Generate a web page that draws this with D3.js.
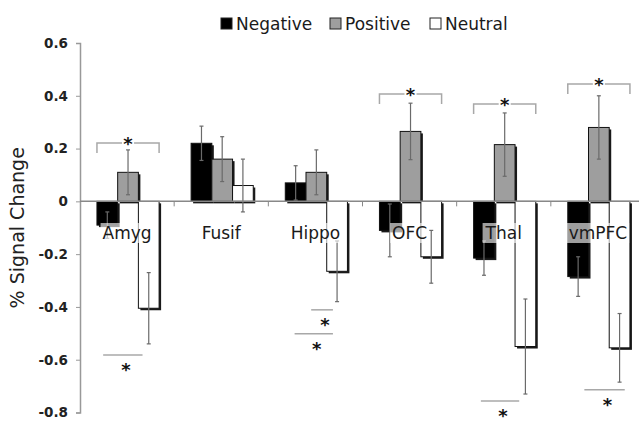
<!DOCTYPE html>
<html>
<head>
<meta charset="utf-8">
<script src="https://cdn.jsdelivr.net/npm/d3@7"></script>
<style>
  body { margin: 0; background: #fff; }
  svg { display: block; font-family: "DejaVu Sans", Verdana, sans-serif; }
</style>
</head>
<body>
<div id="chart"></div>
<script>
// data
const categories = ["Amyg", "Fusif", "Hippo", "OFC", "Thal", "vmPFC"];
const seriesNames = ["Negative", "Positive", "Neutral"];
const negative = [-0.09, 0.22, 0.07, -0.11, -0.215, -0.285];
const positive = [0.11, 0.16, 0.11, 0.265, 0.215, 0.28];
const neutral = [-0.405, 0.06, -0.265, -0.21, -0.55, -0.555];
const negativeErr = [0.05, 0.065, 0.065, 0.10, 0.065, 0.075];
const positiveErr = [0.085, 0.085, 0.085, 0.107, 0.12, 0.12];
const neutralErr = [0.135, 0.10, 0.115, 0.10, 0.18, 0.13];
const yTicks = [0.6, 0.4, 0.2, 0, -0.2, -0.4, -0.6, -0.8];

// significance marks: brackets above, lines below (span given in bar slots)
const topBracketCats = ["Amyg", "OFC", "Thal", "vmPFC"];
const topBracketLevels = [0.221, 0.407, 0.369, 0.445];
const bottomLineCats = ["Amyg", "Hippo", "Hippo", "Thal", "vmPFC"];
const bottomLineLevels = [-0.582, -0.411, -0.502, -0.756, -0.714];
const bottomLineFrom = [0.3, 1.25, 0.45, 0.35, 0.8];
const bottomLineTo = [2.2, 2.3, 2.3, 2.2, 2.75];

const values = [negative, positive, neutral];
const errors = [negativeErr, positiveErr, neutralErr];
const fills = ["#000000", "#9e9e9e", "#ffffff"];

const width = 639, height = 421;

const svg = d3.select("#chart").append("svg")
    .attr("width", width)
    .attr("height", height);

const x = d3.scaleBand()
    .domain(categories)
    .range([80, 645])
    .padding(0);

const xs = d3.scaleBand()
    .domain(seriesNames)
    .range([x.bandwidth() * 0.18, x.bandwidth() * 0.84])
    .padding(0);

const y = d3.scaleLinear()
    .domain([-0.8, 0.6])
    .range([412.5, 43]);

const bw = xs.bandwidth();
const slotX = (cat, s) => x(cat) + xs(seriesNames[0]) + s * bw;

// y axis
const yAxis = d3.axisLeft(y)
    .tickValues(yTicks)
    .tickSize(4)
    .tickPadding(8)
    .tickFormat(d => d === 0 ? "0" : d.toFixed(1));

const yAxisGroup = svg.append("g")
    .attr("class", "y-axis")
    .attr("transform", "translate(80,0)")
    .call(yAxis);
yAxisGroup.select(".domain").attr("stroke", "#999").attr("stroke-width", 1.5);
yAxisGroup.selectAll(".tick line").attr("stroke", "#999");
yAxisGroup.selectAll(".tick text")
    .attr("fill", "#222")
    .style("font-size", "13.5px")
    .style("font-weight", "bold")
    .style("font-family", "'DejaVu Sans', sans-serif");

svg.append("text")
    .attr("transform", "translate(24," + y(-0.1) + ") rotate(-90)")
    .attr("text-anchor", "middle")
    .attr("fill", "#222")
    .style("font-size", "19px")
    .text("% Signal Change");

// bars
const barData = [];
categories.forEach((c, i) => {
    seriesNames.forEach((s, j) => {
        barData.push({cat: c, series: s, j: j, v: values[j][i], e: errors[j][i]});
    });
});

const barG = svg.append("g");

barG.selectAll(".shadow")
    .data(barData)
    .enter().append("rect")
    .attr("class", "shadow")
    .attr("x", d => x(d.cat) + xs(d.series) + 2)
    .attr("y", d => Math.min(y(d.v), y(0)) + 2)
    .attr("width", bw)
    .attr("height", d => Math.abs(y(d.v) - y(0)))
    .attr("fill", "#1a1a1a");

barG.selectAll(".bar")
    .data(barData)
    .enter().append("rect")
    .attr("class", "bar")
    .attr("x", d => x(d.cat) + xs(d.series))
    .attr("y", d => Math.min(y(d.v), y(0)))
    .attr("width", bw)
    .attr("height", d => Math.abs(y(d.v) - y(0)))
    .attr("fill", d => fills[d.j])
    .attr("stroke", "#111")
    .attr("stroke-width", 1);

// error bars
const errG = svg.append("g")
    .attr("stroke", "#6a6a6a")
    .attr("stroke-width", 1.2);

barData.forEach(d => {
    const cx = x(d.cat) + xs(d.series) + bw / 2;
    errG.append("line")
        .attr("x1", cx).attr("x2", cx)
        .attr("y1", y(d.v + d.e)).attr("y2", y(d.v - d.e));
    [d.v + d.e, d.v - d.e].forEach(v => {
        errG.append("line")
            .attr("x1", cx - 2).attr("x2", cx + 2)
            .attr("y1", y(v)).attr("y2", y(v));
    });
});

// x axis along zero
const xAxisG = svg.append("g");
xAxisG.append("line")
    .attr("x1", 80).attr("x2", width)
    .attr("y1", y(0)).attr("y2", y(0))
    .attr("stroke", "#888")
    .attr("stroke-width", 1.5);
xAxisG.selectAll(".xtick")
    .data(categories.slice(1))
    .enter().append("line")
    .attr("x1", d => x(d)).attr("x2", d => x(d))
    .attr("y1", y(0)).attr("y2", y(0) + 5)
    .attr("stroke", "#888");

// category labels with translucent box
const labelG = svg.append("g");
categories.forEach(c => {
    const g = labelG.append("g");
    const t = g.append("text")
        .attr("x", x(c) + x.bandwidth() / 2)
        .attr("y", 239)
        .attr("text-anchor", "middle")
        .attr("fill", "#1a1a1a")
        .style("font-size", "17px")
        .text(c);
    const bb = t.node().getBBox();
    g.insert("rect", "text")
        .attr("x", bb.x - 2)
        .attr("y", bb.y)
        .attr("width", bb.width + 4)
        .attr("height", bb.height)
        .attr("fill", "#fff")
        .attr("opacity", 0.62);
});

// significance marks
const sigG = svg.append("g");
const star = (cx, cy) => sigG.append("text")
    .attr("x", cx)
    .attr("y", cy + 10)
    .attr("text-anchor", "middle")
    .attr("fill", "#111")
    .style("font-size", "18px")
    .style("font-weight", "bold")
    .text("*");

topBracketCats.forEach((c, i) => {
    const x0 = slotX(c, 0), x1 = slotX(c, 3), ly = y(topBracketLevels[i]);
    const mid = (x0 + x1) / 2;
    sigG.append("path")
        .attr("d", `M${x0},${ly + 10}V${ly}H${mid - 6}M${mid + 6},${ly}H${x1}V${ly + 10}`)
        .attr("fill", "none")
        .attr("stroke", "#a8a8a8")
        .attr("stroke-width", 1.5);
    star(mid, ly - 3);
});

bottomLineCats.forEach((c, i) => {
    const x0 = slotX(c, bottomLineFrom[i]), x1 = slotX(c, bottomLineTo[i]);
    const ly = y(bottomLineLevels[i]);
    sigG.append("line")
        .attr("x1", x0).attr("x2", x1)
        .attr("y1", ly).attr("y2", ly)
        .attr("stroke", "#a8a8a8")
        .attr("stroke-width", 1.5);
    star((x0 + x1) / 2 + 3, ly + 11);
});

// legend
const legendX = [221, 330, 430];
const legend = svg.append("g");
seriesNames.forEach((s, j) => {
    legend.append("rect")
        .attr("x", legendX[j]).attr("y", 18)
        .attr("width", 11).attr("height", 11)
        .attr("fill", fills[j])
        .attr("stroke", "#222")
        .attr("stroke-width", 1);
    legend.append("text")
        .attr("x", legendX[j] + 15)
        .attr("y", 29.5)
        .attr("fill", "#1a1a1a")
        .style("font-size", "17px")
        .text(s);
});
</script>
</body>
</html>
